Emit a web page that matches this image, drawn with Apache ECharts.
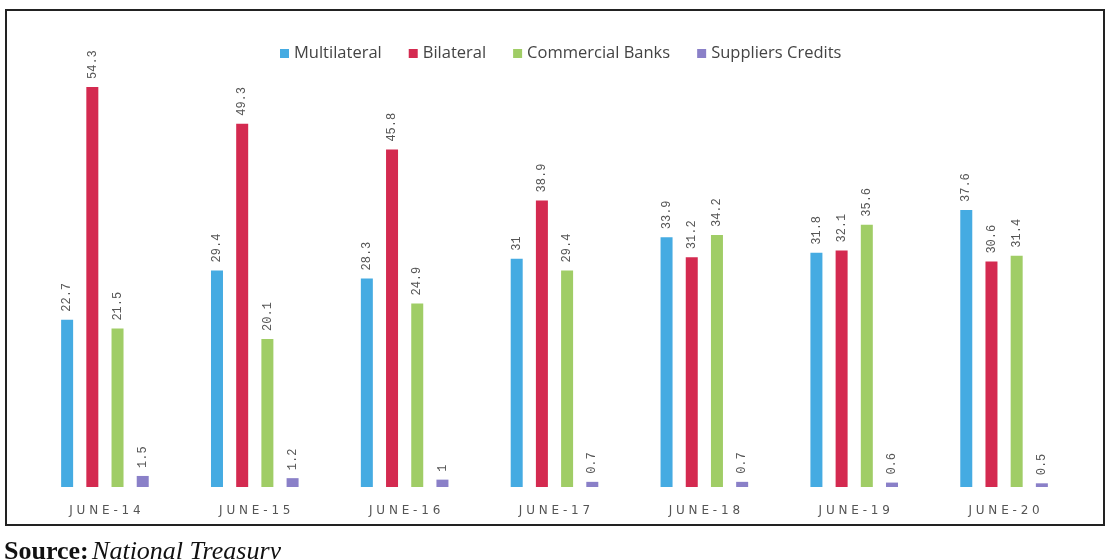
<!DOCTYPE html>
<html>
<head>
<meta charset="utf-8">
<script src="https://cdn.jsdelivr.net/npm/echarts@6/dist/echarts.min.js"></script>
<style>
  html, body { margin: 0; padding: 0; background: #fff; }
  #chart { width: 1107px; height: 559px; }
</style>
</head>
<body>
<div id="chart"></div>
<script>
var categories = ["JUNE-14", "JUNE-15", "JUNE-16", "JUNE-17", "JUNE-18", "JUNE-19", "JUNE-20"];
var multilateral = [22.7, 29.4, 28.3, 31, 33.9, 31.8, 37.6];
var bilateral = [54.3, 49.3, 45.8, 38.9, 31.2, 32.1, 30.6];
var commercialBanks = [21.5, 20.1, 24.9, 29.4, 34.2, 35.6, 31.4];
var suppliersCredits = [1.5, 1.2, 1, 0.7, 0.7, 0.6, 0.5];

var myChart = echarts.init(document.getElementById("chart"));

function barSeries(name, data) {
  return {
    name: name,
    type: "bar",
    data: data,
    barWidth: 12,
    barGap: "110%",
    label: {
      show: true,
      position: "top",
      rotate: 90,
      align: "left",
      verticalAlign: "middle",
      distance: 8,
      color: "#555",
      fontFamily: "Liberation Mono",
      fontSize: 12
    }
  };
}

myChart.setOption({
  animation: false,
  color: ["#45ABE2", "#D42A50", "#A0CD66", "#8A80C8"],
  legend: {
    data: ["Multilateral", "Bilateral", "Commercial Banks", "Suppliers Credits"],
    top: 40,
    left: 275,
    icon: "rect",
    itemWidth: 9,
    itemHeight: 9,
    itemGap: 27,
    textStyle: { color: "#444", fontSize: 16.5, fontFamily: "Open Sans" }
  },
  grid: { left: 30, right: 28, top: 45, bottom: 72 },
  xAxis: {
    type: "category",
    data: categories,
    axisLine: { show: false },
    axisTick: { show: false },
    axisLabel: {
      margin: 18,
      color: "#555",
      fontSize: 12,
      fontFamily: "DejaVu Sans",
      formatter: function (v) { return v.split("").join(" "); }
    }
  },
  yAxis: {
    type: "value",
    min: 0,
    max: 60,
    show: false,
    splitLine: { show: false }
  },
  graphic: [
    {
      type: "rect",
      shape: { x: 6, y: 10, width: 1098, height: 515 },
      style: { fill: "none", stroke: "#222", lineWidth: 2 }
    },
    {
      type: "text",
      left: 4,
      top: 539,
      style: {
        rich: {
          b: { fontFamily: "Liberation Serif", fontWeight: "bold", fontSize: 26, fill: "#111" },
          i: { fontFamily: "Liberation Serif", fontStyle: "italic", fontSize: 26, fill: "#111" }
        },
        text: "{b|Source:} {i|National Treasury}"
      }
    }
  ],
  series: [
    barSeries("Multilateral", multilateral),
    barSeries("Bilateral", bilateral),
    barSeries("Commercial Banks", commercialBanks),
    barSeries("Suppliers Credits", suppliersCredits)
  ]
});
</script>
</body>
</html>
